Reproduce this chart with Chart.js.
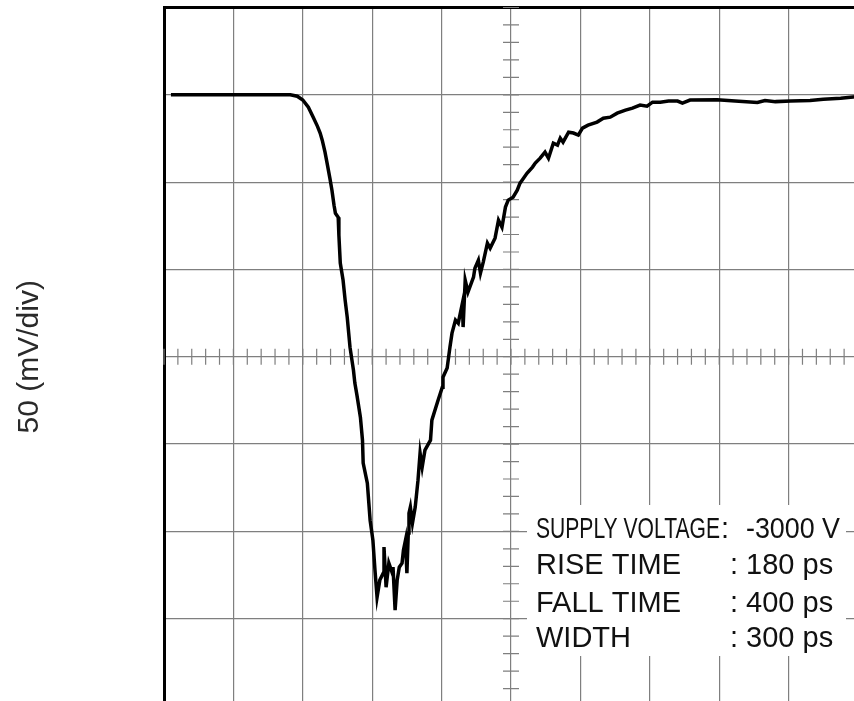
<!DOCTYPE html>
<html>
<head>
<meta charset="utf-8">
<script src="https://cdn.jsdelivr.net/npm/chart.js@4.4.1/dist/chart.umd.min.js"></script>
<style>
  html, body { margin: 0; padding: 0; background: #fff; overflow: hidden; }
  #wrap { position: absolute; left: 0; top: 0; width: 858px; height: 706px; }
</style>
</head>
<body>
<div id="wrap"><canvas id="scope"></canvas></div>
<script>
(function () {
    'use strict';

    // ── Trace data (x in divisions, y in mV) ──────────────────────────────────
    var timeDiv = [
        0.10, 1.82, 1.92, 2.00, 2.08, 2.15, 2.21, 2.25, 2.28, 2.32,
        2.35, 2.39, 2.42, 2.45, 2.47, 2.51, 2.52, 2.54, 2.58, 2.61,
        2.64, 2.68, 2.73, 2.75, 2.78, 2.83, 2.86, 2.87, 2.93, 2.97,
        3.01, 3.04, 3.07, 3.11, 3.16, 3.17, 3.20, 3.24, 3.29, 3.30,
        3.33, 3.36, 3.39, 3.43, 3.45, 3.48, 3.50, 3.52, 3.53, 3.55,
        3.58, 3.62, 3.66, 3.69, 3.72, 3.76, 3.84, 3.86, 3.94, 4.01,
        4.02, 4.08, 4.12, 4.15, 4.20, 4.24, 4.30, 4.31, 4.34, 4.38,
        4.46, 4.48, 4.53, 4.56, 4.60, 4.66, 4.70, 4.77, 4.82, 4.87,
        4.92, 4.96, 5.03, 5.09, 5.13, 5.16, 5.23, 5.31, 5.35, 5.42,
        5.49, 5.54, 5.61, 5.67, 5.71, 5.75, 5.83, 5.90, 5.97, 6.03,
        6.11, 6.24, 6.33, 6.43, 6.53, 6.65, 6.75, 6.86, 6.96, 7.04,
        7.15, 7.27, 7.40, 7.47, 7.58, 7.97, 8.23, 8.55, 8.66, 8.81,
        9.03, 9.31, 9.50, 9.75, 9.93, 10.0
    ];
    var signalMv = [
        150, 150, 149.2, 147.0, 142.9, 137.2, 132.1, 128.1, 124.0, 117.2,
        110.9, 102.3, 95.4, 86.8, 82.2, 79.9, 69.6, 53.6, 43.9, 32.4,
        22.7, 5.5, -7.7, -15.1, -22.0, -34.6, -47.8, -60.9, -72.4, -93.6,
        -105.0, -122.2, -137.7, -127.9, -123.9, -109.0, -132.0, -118.2, -123.9, -120.5,
        -145.1, -127.9, -120.5, -118.2, -110.8, -105.0, -123.9, -101.0, -89.6, -86.1,
        -95.3, -86.1, -70.7, -55.2, -63.2, -53.5, -47.8, -36.3, -26.0, -17.4,
        -11.7, -6.5, 5.5, 13.5, 21.0, 19.2, 30.7, 17.0, 43.9, 37.0,
        45.6, 50.7, 55.3, 47.9, 54.2, 65.1, 62.2, 67.9, 78.2, 74.2,
        85.7, 89.7, 91.4, 95.4, 99.4, 101.1, 105.1, 108.6, 110.9, 113.7,
        117.2, 113.7, 122.3, 121.2, 125.2, 122.9, 128.6, 128.1, 126.9, 130.9,
        132.6, 134.4, 136.6, 137.2, 139.5, 141.2, 142.4, 144.1, 143.5, 145.8,
        145.8, 146.4, 146.4, 145.2, 147.0, 147.2, 146.4, 145.6, 146.7, 146.1,
        146.4, 146.7, 147.5, 148.1, 148.8, 149.0
    ];

    // ── Screen layout: 10 x 8 divisions, 50 mV per division ───────────────────
    var xDivs = [0, 10];
    var yRangeMv = [-200, 200];
    var mvPerDiv = 50;
    var axisLabel = '50 (mV/div)';

    // ── Measurement readout ───────────────────────────────────────────────────
    var infoNames = ['SUPPLY VOLTAGE', 'RISE TIME', 'FALL TIME', 'WIDTH'];
    var infoValues = ['-3000 V', '180 ps', '400 ps', '300 ps'];

    var GRID = '#7f7f7f';
    var FONT = '"Liberation Sans", Arial, sans-serif';

    var points = timeDiv.map(function (t, i) { return { x: t, y: signalMv[i] }; });

    // Minor ticks along the two centre graticule lines (5 per division)
    var centreTicks = {
        id: 'centreTicks',
        beforeDatasetsDraw: function (chart) {
            var ctx = chart.ctx, x = chart.scales.x, y = chart.scales.y;
            var x0 = x.getPixelForValue((xDivs[0] + xDivs[1]) / 2);
            var y0 = y.getPixelForValue(0);
            var i, p;
            ctx.save();
            ctx.strokeStyle = GRID;
            ctx.lineWidth = 1.2;
            ctx.beginPath();
            for (i = 0; i <= (xDivs[1] - xDivs[0]) * 5; i++) {
                p = x.getPixelForValue(xDivs[0] + i * 0.2);
                ctx.moveTo(p, y0 - 8); ctx.lineTo(p, y0 + 8);
            }
            for (i = 0; i <= (yRangeMv[1] - yRangeMv[0]) / (mvPerDiv / 5); i++) {
                p = y.getPixelForValue(yRangeMv[0] + i * mvPerDiv / 5);
                ctx.moveTo(x0 - 8, p); ctx.lineTo(x0 + 8, p);
            }
            ctx.stroke();
            ctx.restore();
        }
    };

    // White readout panel with the pulse parameters
    var readout = {
        id: 'readout',
        beforeDatasetsDraw: function (chart) {
            var ctx = chart.ctx;
            var left = 536, colon = 730, baselines = [537.5, 574, 611.5, 647];
            ctx.save();
            ctx.fillStyle = '#fff';
            ctx.fillRect(527, 505, 319, 151);
            ctx.fillStyle = '#111';
            ctx.textBaseline = 'alphabetic';
            ctx.font = '29px ' + FONT;
            // first row is set in a condensed face
            ctx.fillText(infoNames[0], left, baselines[0], 184);
            ctx.fillText(':', 721, baselines[0]);
            ctx.fillText(infoValues[0], 746, baselines[0], 94);
            for (var i = 1; i < infoNames.length; i++) {
                ctx.fillText(infoNames[i], left, baselines[i]);
                ctx.fillText(': ' + infoValues[i], colon, baselines[i]);
            }
            ctx.restore();
        }
    };

    new Chart(document.getElementById('scope').getContext('2d'), {
        type: 'line',
        data: {
            datasets: [{
                data: points,
                borderColor: '#000',
                borderWidth: 3.5,
                pointRadius: 0,
                tension: 0,
                fill: false
            }]
        },
        options: {
            responsive: true,
            maintainAspectRatio: false,
            animation: false,
            events: [],
            layout: { padding: { left: 0, top: 7.5, right: 0, bottom: 0 } },
            plugins: { legend: { display: false }, tooltip: { enabled: false } },
            scales: {
                x: {
                    type: 'linear',
                    min: xDivs[0],
                    max: xDivs[1],
                    ticks: { display: false, stepSize: 1 },
                    grid: { color: GRID, lineWidth: 1.2, drawTicks: false, tickLength: 0 },
                    border: { display: false }
                },
                xTop: {
                    type: 'linear',
                    position: 'top',
                    min: xDivs[0],
                    max: xDivs[1],
                    ticks: { display: false },
                    grid: { display: false, drawTicks: false, tickLength: 0 },
                    border: { display: true, color: '#000', width: 3 }
                },
                y: {
                    type: 'linear',
                    min: yRangeMv[0],
                    max: yRangeMv[1],
                    ticks: { display: false, stepSize: mvPerDiv },
                    grid: { color: GRID, lineWidth: 1.2, drawTicks: false, tickLength: 0 },
                    border: { display: true, color: '#000', width: 3 },
                    title: {
                        display: true,
                        text: axisLabel,
                        color: '#2a2a2a',
                        font: { family: FONT, size: 30, lineHeight: 1 },
                        padding: { top: 15, bottom: 119 }
                    }
                }
            }
        },
        plugins: [centreTicks, readout]
    });
})();
</script>
</body>
</html>
